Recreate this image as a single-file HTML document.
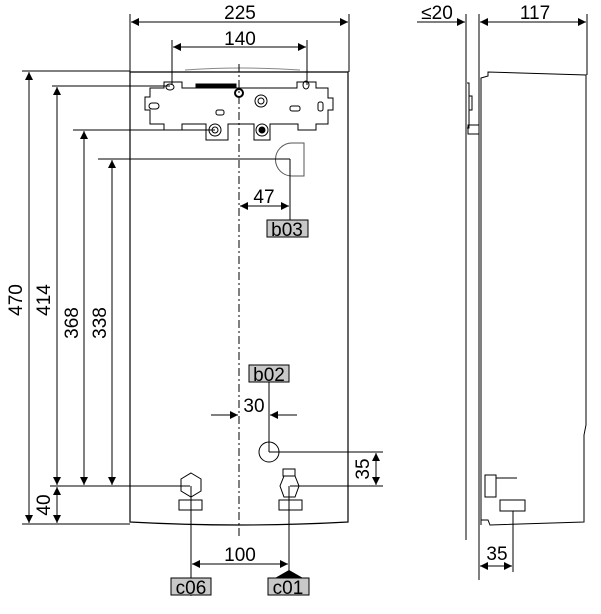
<!DOCTYPE html>
<html><head><style>body{margin:0;background:#fff}svg{display:block}text{font-family:"Liberation Sans",sans-serif;fill:#000}</style></head><body>
<svg width="601" height="614" viewBox="0 0 601 614" xmlns="http://www.w3.org/2000/svg">
<defs>
<marker id="a" viewBox="0 0 10 10" refX="10" refY="5" markerWidth="10" markerHeight="8" orient="auto-start-reverse" markerUnits="userSpaceOnUse"><path d="M0,0L10,5L0,10z" fill="#000"/></marker>
</defs>
<g stroke="#000" stroke-width="1" fill="none">
<path d="M130,72 L348,72 L348,522 Q240,528 130,522 Z" stroke-width="1.2"/>
<path d="M185,70 Q240,66 300,70" stroke="#888"/>
<line x1="239" y1="64" x2="239" y2="536" stroke-dasharray="8,3,2,3"/>
<line x1="130" y1="14" x2="130" y2="72"/><line x1="349" y1="14" x2="349" y2="72"/>
<line x1="131" y1="22" x2="348" y2="22" marker-start="url(#a)" marker-end="url(#a)"/>
<line x1="172" y1="40" x2="172" y2="85"/><line x1="307" y1="40" x2="307" y2="85"/>
<line x1="173" y1="47" x2="306" y2="47" marker-start="url(#a)" marker-end="url(#a)"/>
<path d="M164,88 L164,82 L182,82 L182,88 L297,88 L297,82 L316,82 L316,88 L328,88 L328,98 L333,98 L333,110 L328,110 L328,124 L316,124 L316,130 L298,130 L298,124 L270,124 L270,140 L254,140 L254,124 L228,124 L228,140 L206,140 L206,124 L182,124 L182,130 L164,130 L164,124 L150,124 L150,110 L145,110 L145,97 L150,97 L150,88 Z"/>
<ellipse cx="170" cy="87" rx="4" ry="3"/><ellipse cx="306" cy="85" rx="3" ry="4"/>
<rect x="196" y="84" width="40" height="3" fill="#000"/>
<circle cx="239" cy="93" r="4" stroke-width="2"/>
<circle cx="261" cy="101" r="6"/><circle cx="261" cy="101" r="3"/>
<circle cx="215" cy="130" r="6"/><circle cx="215" cy="130" r="3"/>
<circle cx="262" cy="130" r="6"/><circle cx="262" cy="130" r="3" fill="#000"/>
<rect x="149" y="103" width="10" height="6" rx="3"/><rect x="216" y="110" width="8" height="5" rx="2"/>
<rect x="290" y="106" width="10" height="5" rx="2"/><rect x="318" y="102" width="5" height="9" rx="2"/>
<path d="M304,143 L304,176 L292,176 A16,16 0 0 1 292,143 Z" stroke="#555"/>
<line x1="22" y1="71" x2="130" y2="71"/>
<line x1="22" y1="524" x2="130" y2="524"/>
<line x1="29" y1="72" x2="29" y2="523" marker-start="url(#a)" marker-end="url(#a)"/>
<line x1="52" y1="86" x2="170" y2="86"/>
<line x1="57" y1="87" x2="57" y2="485" marker-start="url(#a)" marker-end="url(#a)"/>
<line x1="50" y1="486" x2="190" y2="486"/>
<line x1="57" y1="487" x2="57" y2="523" marker-start="url(#a)" marker-end="url(#a)"/>
<line x1="73" y1="130" x2="215" y2="130"/>
<line x1="84" y1="131" x2="84" y2="485" marker-start="url(#a)" marker-end="url(#a)"/>
<line x1="98" y1="159" x2="290" y2="159"/>
<line x1="112" y1="160" x2="112" y2="485" marker-start="url(#a)" marker-end="url(#a)"/>
<line x1="290" y1="159" x2="290" y2="222"/>
<line x1="240" y1="206" x2="289" y2="206" marker-start="url(#a)" marker-end="url(#a)"/>
<line x1="269" y1="382" x2="269" y2="452"/>
<line x1="211" y1="415" x2="238" y2="415" marker-end="url(#a)"/>
<line x1="297" y1="415" x2="270" y2="415" marker-end="url(#a)"/>
<circle cx="269" cy="452" r="10"/>
<line x1="269" y1="452" x2="383" y2="452"/>
<line x1="290" y1="486" x2="383" y2="486"/>
<line x1="376" y1="453" x2="376" y2="485" marker-start="url(#a)" marker-end="url(#a)"/>
<path d="M191,473 L201,479 L201,491 L191,497 L181,491 L181,479 Z"/>
<rect x="179" y="500" width="23" height="10"/>
<rect x="283" y="469" width="12" height="7"/>
<path d="M284,476 L295,476 L299,486 L295,497 L284,497 L280,486 Z"/>
<rect x="279" y="500" width="23" height="10"/>
<line x1="191" y1="486" x2="191" y2="586"/><line x1="289" y1="486" x2="289" y2="578"/>
<line x1="192" y1="564" x2="288" y2="564" marker-start="url(#a)" marker-end="url(#a)"/>
<line x1="466" y1="14" x2="466" y2="540"/>
<line x1="479" y1="14" x2="479" y2="100"/>
<line x1="587" y1="14" x2="587" y2="75"/>
<line x1="417" y1="22" x2="465" y2="22" marker-end="url(#a)"/>
<line x1="480" y1="22" x2="586" y2="22" marker-start="url(#a)" marker-end="url(#a)"/>
<line x1="479" y1="100" x2="479" y2="580"/><line x1="481" y1="100" x2="481" y2="525"/>
<path d="M481,100 L481,78 L488,76 L488,72 L586,75 L586,425 L584,435 L584,522 L490,525 L488,520 L481,520"/>
<path d="M467,83 L469,83 L469,128 L467,128" /><rect x="469" y="96" width="3" height="14"/>
<rect x="468" y="125" width="11" height="9"/>
<rect x="485" y="475" width="11" height="22"/>
<line x1="496" y1="478" x2="517" y2="478"/>
<rect x="500" y="500" width="25" height="11"/>
<line x1="513" y1="511" x2="513" y2="572"/>
<line x1="480" y1="566" x2="512" y2="566" marker-start="url(#a)" marker-end="url(#a)"/>
</g>
<g fill="#000"><path d="M177,586 L191,596 L205,586Z"/><path d="M275,578 L289,570 L303,578Z"/></g>
<g stroke="#000" fill="#c8c8c8">
<rect x="267" y="220" width="41" height="17"/>
<rect x="249" y="365" width="40" height="17"/>
<rect x="171" y="578" width="40" height="17"/>
<rect x="268" y="578" width="41" height="17"/>
</g>
<g font-size="19">
<text x="240" y="19" text-anchor="middle">225</text>
<text x="240" y="45" text-anchor="middle">140</text>
<text x="264" y="203" text-anchor="middle">47</text>
<text x="287" y="236" text-anchor="middle">b03</text>
<text x="269" y="381" text-anchor="middle">b02</text>
<text x="254" y="412" text-anchor="middle">30</text>
<text x="240" y="561" text-anchor="middle">100</text>
<text x="191" y="594" text-anchor="middle">c06</text>
<text x="288" y="594" text-anchor="middle">c01</text>
<text x="535" y="19" text-anchor="middle">117</text>
<text x="437" y="19" text-anchor="middle">≤20</text>
<text x="497" y="560" text-anchor="middle">35</text>
<text transform="translate(22,300) rotate(-90)" text-anchor="middle">470</text>
<text transform="translate(50,300) rotate(-90)" text-anchor="middle">414</text>
<text transform="translate(78,323) rotate(-90)" text-anchor="middle">368</text>
<text transform="translate(106,323) rotate(-90)" text-anchor="middle">338</text>
<text transform="translate(50,505) rotate(-90)" text-anchor="middle">40</text>
<text transform="translate(369,469) rotate(-90)" text-anchor="middle">35</text>
</g>
</svg>
</body></html>
